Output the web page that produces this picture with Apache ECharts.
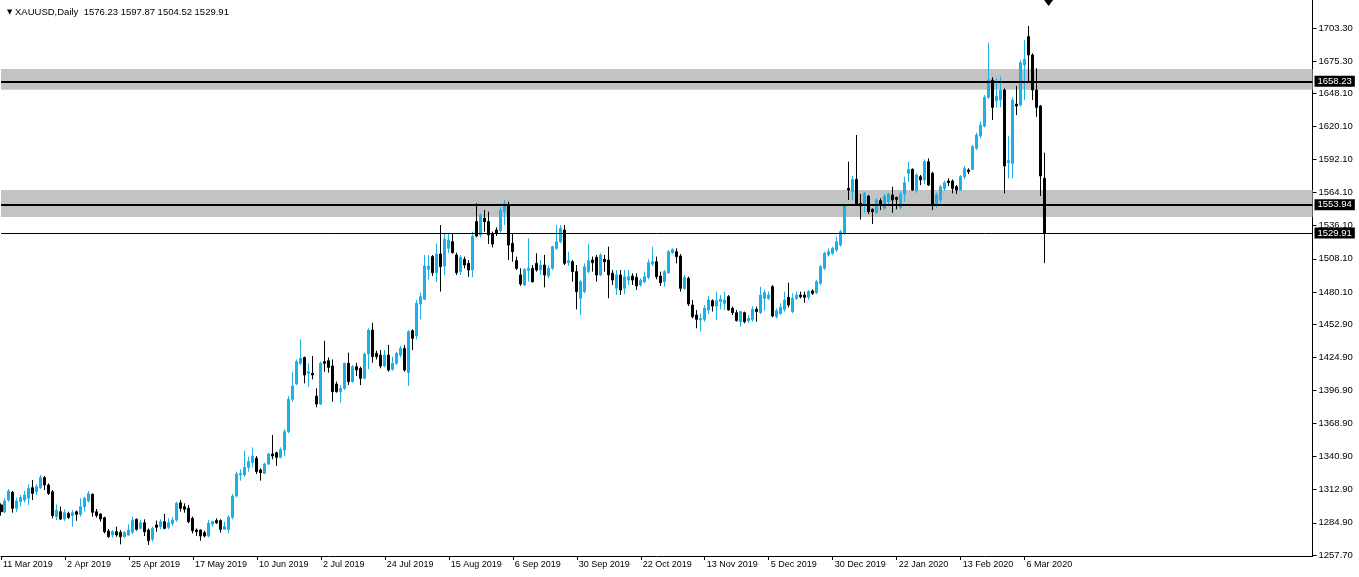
<!DOCTYPE html>
<html><head><meta charset="utf-8">
<script src="https://cdn.jsdelivr.net/npm/echarts@6/dist/echarts.min.js"></script>
<style>html,body{margin:0;padding:0;background:#fff;}#c{width:1359px;height:577px;}</style>
</head><body><div id="c"></div>
<script>
const symbolName = 'XAUUSD,Daily';
const opens = [
1300.0,1294.3,1304.2,1310.7,1297.2,1302.8,1304.2,1305.6,1314.6,1311.2,
1314.6,1323.1,1316.9,1311.2,1290.1,1294.3,1288.1,1292.9,1291.0,1294.3,
1292.1,1298.6,1303.4,1309.0,1294.3,1292.4,1289.3,1278.0,1274.6,1277.4,
1276.9,1273.2,1274.6,1276.9,1287.9,1280.2,1285.0,1278.8,1271.0,1283.1,
1281.7,1285.9,1281.1,1284.5,1287.3,1301.9,1298.6,1297.2,1288.7,1278.8,
1278.8,1276.6,1273.8,1283.9,1286.8,1286.8,1279.4,1279.4,1289.6,1307.6,
1325.4,1325.4,1331.8,1335.8,1339.5,1329.6,1326.7,1334.6,1343.1,1344.2,
1340.3,1346.5,1362.0,1389.3,1402.3,1419.8,1424.8,1411.3,1411.3,1392.1,
1385.4,1421.2,1422.0,1417.5,1402.3,1395.8,1398.6,1419.8,1404.3,1416.9,
1415.5,1407.1,1427.7,1447.9,1428.2,1426.8,1417.5,1426.8,1414.7,1419.8,
1426.8,1432.4,1411.9,1447.4,1442.9,1469.9,1473.9,1499.2,1510.0,1496.4,
1512.2,1502.1,1517.0,1522.6,1511.4,1497.3,1507.7,1504.3,1498.7,1539.6,
1528.3,1542.4,1539.6,1529.1,1532.5,1531.9,1548.0,1553.6,1521.2,1506.6,
1494.5,1486.0,1498.1,1500.1,1504.3,1498.7,1502.9,1493.6,1500.1,1517.0,
1522.6,1532.5,1504.9,1505.7,1497.3,1474.8,1480.4,1497.3,1507.1,1509.4,
1494.5,1507.7,1507.1,1495.9,1483.2,1494.5,1483.2,1490.2,1493.6,1492.5,
1486.0,1488.8,1492.5,1503.7,1505.7,1493.6,1488.8,1496.4,1513.3,1514.2,
1510.5,1483.2,1491.6,1469.1,1460.6,1456.4,1457.0,1464.9,1472.7,1468.2,
1472.0,1470.5,1476.1,1466.3,1462.6,1455.0,1462.6,1455.9,1457.0,1465.4,
1462.6,1474.7,1474.7,1484.6,1459.2,1462.0,1465.4,1475.6,1463.5,1474.7,
1477.5,1477.5,1475.6,1481.0,1479.5,1487.4,1500.1,1511.4,1512.8,1515.6,
1519.8,1529.7,1567.7,1564.9,1575.3,1555.0,1553.6,1561.2,1550.0,1547.1,
1557.3,1550.8,1556.5,1562.1,1560.1,1551.7,1562.9,1580.4,1583.8,1565.7,
1577.6,1574.8,1590.3,1580.4,1553.6,1557.9,1567.7,1573.9,1573.9,1569.1,
1566.3,1577.6,1583.2,1583.8,1601.6,1612.0,1620.4,1644.7,1659.3,1641.8,
1642.4,1650.9,1589.4,1588.9,1639.0,1638.2,1672.0,1696.0,1680.5,1650.9,
1637.3,1576.23];
const closes = [
1294.3,1303.4,1311.8,1297.2,1303.4,1306.5,1308.4,1314.1,1309.8,1315.5,
1323.1,1316.9,1309.8,1291.0,1295.7,1288.1,1293.5,1289.5,1293.5,1292.1,
1298.6,1305.6,1309.6,1293.8,1291.0,1288.1,1277.4,1273.2,1277.4,1274.6,
1273.2,1276.6,1278.8,1287.3,1279.4,1285.0,1277.4,1269.8,1280.2,1281.1,
1285.9,1280.2,1285.0,1287.3,1301.4,1297.2,1296.3,1285.9,1278.3,1277.4,
1273.8,1273.8,1284.5,1285.9,1285.0,1279.4,1281.7,1289.6,1307.6,1326.2,
1326.7,1331.8,1336.6,1341.4,1328.2,1327.3,1334.6,1343.1,1341.4,1340.3,
1347.0,1362.0,1389.3,1400.6,1421.2,1424.0,1409.9,1412.7,1409.9,1385.4,
1419.8,1419.8,1416.4,1395.8,1395.8,1398.6,1419.8,1404.3,1416.9,1414.1,
1407.1,1427.7,1447.9,1425.4,1425.4,1417.5,1426.8,1414.1,1419.8,1428.2,
1432.4,1414.1,1446.5,1440.9,1470.5,1476.1,1502.1,1502.1,1496.4,1512.2,
1501.5,1524.6,1524.0,1513.3,1496.4,1509.4,1502.9,1498.7,1527.4,1527.4,
1545.2,1539.6,1528.3,1520.7,1529.7,1549.4,1555.1,1519.8,1514.2,1500.1,
1486.8,1499.2,1500.1,1488.8,1498.7,1502.9,1494.5,1500.1,1518.4,1522.6,
1533.9,1504.3,1506.6,1497.3,1480.4,1488.8,1501.5,1506.6,1504.9,1494.5,
1511.4,1505.7,1494.5,1490.2,1494.5,1481.8,1493.0,1493.0,1490.2,1485.2,
1489.7,1493.0,1504.9,1505.7,1493.0,1488.0,1497.3,1514.2,1516.1,1510.0,
1483.2,1492.5,1469.9,1459.2,1457.0,1457.8,1466.3,1473.3,1468.2,1472.7,
1473.9,1473.3,1464.9,1462.6,1455.9,1463.5,1455.0,1457.8,1465.4,1463.5,
1477.5,1479.5,1477.5,1459.8,1464.3,1467.1,1473.3,1469.1,1474.7,1477.5,
1476.1,1475.6,1480.4,1479.0,1488.8,1501.5,1512.8,1514.2,1517.0,1522.6,
1531.1,1553.6,1566.3,1575.3,1553.6,1552.8,1563.5,1548.0,1548.0,1557.9,
1553.6,1561.2,1562.9,1557.9,1558.4,1562.9,1572.5,1583.8,1566.3,1579.0,
1574.8,1590.3,1570.5,1553.6,1562.1,1569.1,1572.5,1572.5,1567.7,1566.3,
1577.6,1584.6,1581.8,1603.0,1612.8,1621.3,1644.7,1659.3,1636.2,1645.8,
1650.9,1586.6,1591.2,1642.4,1637.3,1674.0,1676.8,1680.5,1650.9,1636.2,
1578.2,1529.91];
const lows = [
1291.0,1292.9,1302.8,1293.5,1294.3,1298.6,1302.2,1300.0,1304.2,1308.4,
1313.5,1312.7,1308.4,1288.7,1287.3,1287.3,1286.5,1288.1,1281.7,1286.5,
1290.1,1294.3,1302.2,1290.1,1289.3,1285.9,1276.0,1272.4,1272.4,1273.2,
1266.7,1272.4,1274.0,1275.2,1278.3,1279.4,1273.8,1266.2,1269.0,1277.4,
1279.4,1279.4,1279.4,1282.2,1285.9,1294.4,1293.5,1284.5,1276.0,1273.8,
1269.8,1272.6,1272.6,1281.7,1283.9,1276.6,1279.4,1276.0,1287.9,1306.5,
1320.6,1323.9,1328.2,1331.8,1326.2,1320.6,1326.2,1333.8,1338.6,1333.0,
1339.4,1341.4,1360.6,1387.3,1401.4,1418.4,1402.9,1400.0,1406.2,1382.6,
1384.5,1412.7,1411.9,1387.3,1395.0,1386.5,1397.2,1401.4,1403.4,1409.0,
1401.4,1406.2,1414.7,1420.3,1423.1,1415.5,1416.4,1412.7,1413.6,1418.4,
1424.8,1412.7,1400.6,1431.0,1440.0,1457.0,1473.3,1490.2,1493.6,1488.8,
1480.4,1494.5,1512.8,1512.8,1494.5,1494.5,1500.1,1493.0,1492.5,1526.3,
1526.3,1531.1,1520.7,1517.8,1527.4,1530.2,1536.7,1507.1,1505.7,1498.7,
1485.2,1485.2,1488.8,1488.0,1497.3,1494.5,1484.0,1491.6,1498.7,1515.6,
1521.2,1502.9,1502.1,1488.8,1465.4,1460.6,1479.0,1495.9,1497.3,1488.8,
1493.6,1497.3,1474.8,1486.0,1477.6,1477.6,1478.4,1486.0,1486.0,1481.8,
1484.6,1487.4,1490.8,1502.1,1490.8,1485.2,1484.6,1495.3,1512.2,1504.3,
1480.4,1481.8,1468.2,1457.8,1449.4,1446.5,1455.0,1461.5,1463.5,1456.4,
1465.4,1464.9,1464.3,1460.6,1455.0,1450.8,1453.6,1454.2,1455.0,1455.0,
1461.5,1464.3,1473.3,1458.7,1457.8,1460.6,1463.5,1467.1,1462.0,1473.3,
1474.7,1471.0,1473.3,1477.5,1478.4,1486.0,1498.7,1510.0,1511.4,1514.2,
1518.4,1528.3,1557.9,1557.9,1552.8,1541.5,1547.1,1546.0,1537.6,1546.0,
1549.4,1549.4,1554.5,1547.1,1550.0,1550.0,1556.5,1573.4,1565.7,1564.0,
1570.5,1571.4,1569.7,1549.4,1550.8,1555.0,1565.7,1569.7,1563.5,1562.9,
1565.7,1575.3,1579.8,1583.2,1600.1,1610.0,1619.3,1643.0,1625.5,1636.2,
1636.2,1563.5,1576.2,1576.2,1629.7,1636.8,1642.4,1657.9,1642.4,1628.3,
1561.3,1504.52];
const highs = [
1301.4,1305.6,1313.5,1311.8,1306.2,1308.4,1311.8,1317.5,1321.1,1317.5,
1325.3,1324.5,1318.3,1312.7,1300.5,1298.6,1296.3,1294.3,1295.7,1295.2,
1305.6,1307.0,1311.8,1309.8,1296.6,1292.9,1290.1,1279.7,1278.8,1281.7,
1278.8,1278.0,1283.6,1290.1,1288.7,1287.3,1287.9,1280.2,1281.7,1286.8,
1287.9,1292.4,1288.7,1290.1,1302.8,1304.2,1301.4,1300.0,1290.1,1280.2,
1279.4,1278.3,1287.3,1286.8,1288.7,1287.9,1285.9,1291.5,1309.3,1328.2,
1330.1,1345.9,1340.9,1348.7,1341.4,1331.0,1335.8,1344.2,1359.2,1345.1,
1348.7,1364.0,1392.1,1412.7,1423.1,1440.1,1425.4,1419.8,1426.0,1398.6,
1421.2,1438.9,1424.8,1423.1,1404.3,1401.4,1420.3,1428.8,1418.4,1420.3,
1416.9,1428.8,1449.4,1454.1,1430.5,1431.0,1431.0,1435.3,1425.4,1429.6,
1434.4,1435.3,1447.9,1448.5,1473.3,1479.5,1511.4,1511.4,1511.4,1521.2,
1536.7,1529.7,1529.7,1529.7,1513.3,1511.4,1510.0,1507.1,1531.1,1555.1,
1546.6,1549.4,1548.0,1531.1,1534.8,1551.7,1558.0,1556.5,1529.7,1510.0,
1500.1,1500.1,1525.5,1502.9,1512.8,1507.1,1511.4,1502.9,1519.0,1536.7,
1536.7,1536.7,1514.2,1507.1,1502.9,1490.2,1504.3,1520.7,1510.0,1511.4,
1512.8,1511.4,1518.4,1498.7,1498.7,1498.7,1498.7,1498.7,1495.9,1495.9,
1491.6,1497.3,1507.7,1518.4,1510.0,1497.3,1498.7,1515.6,1517.0,1517.0,
1512.2,1494.5,1493.0,1473.3,1464.9,1462.0,1469.1,1476.7,1473.9,1480.4,
1477.5,1480.4,1477.5,1467.7,1464.9,1464.3,1463.5,1460.6,1468.2,1467.7,
1484.6,1481.8,1480.4,1486.0,1466.3,1470.5,1480.4,1488.0,1478.9,1480.4,
1480.4,1480.4,1481.8,1482.3,1490.2,1502.9,1514.2,1517.0,1518.4,1526.9,
1532.5,1555.0,1590.3,1578.2,1612.8,1562.9,1564.9,1562.1,1550.8,1559.3,
1559.3,1562.9,1564.0,1569.1,1560.7,1564.9,1577.6,1590.3,1584.6,1580.4,
1579.0,1592.2,1593.1,1581.8,1564.0,1570.5,1574.2,1576.2,1575.3,1570.5,
1579.0,1586.6,1584.6,1604.4,1614.8,1624.1,1646.6,1690.9,1661.6,1660.7,
1662.1,1652.3,1611.9,1644.7,1654.3,1676.2,1693.2,1705.0,1681.9,1669.2,
1638.2,1597.87];

const firstDate = '2019-03-11';
const marketHolidays = ['2019-04-19', '2019-12-25', '2020-01-01'];
const futureBarCount = 67;
const dateLabelEvery = 16;
const yTickValues = [1703.30,1675.30,1648.10,1620.10,1592.10,1564.10,1536.10,1508.10,1480.10,1452.90,1424.90,1396.90,1368.90,1340.90,1312.90,1284.90,1257.70];
const levelLines = [1658.23, 1553.94];
const bidLine = [1529.91];
const zoneTops = [1668.6, 1566.3];
const zoneBottoms = [1651.1, 1543.5];
const yRange = [1256.86, 1726.98];

const MONTHS = ['Jan','Feb','Mar','Apr','May','Jun','Jul','Aug','Sep','Oct','Nov','Dec'];
function tradingDays(start, count, holidays) {
  const out = [];
  const d = new Date(start + 'T00:00:00Z');
  while (out.length < count) {
    const iso = d.toISOString().slice(0, 10);
    const wd = d.getUTCDay();
    if (wd !== 0 && wd !== 6 && holidays.indexOf(iso) < 0) {
      out.push(d.getUTCDate() + ' ' + MONTHS[d.getUTCMonth()] + ' ' + d.getUTCFullYear());
    }
    d.setUTCDate(d.getUTCDate() + 1);
  }
  return out;
}
const n = opens.length;
const dates = tradingDays(firstDate, n, marketHolidays);
const categories = dates.slice();
for (let k = 0; k < futureBarCount; k++) categories.push('+' + (k + 1));

const ohlc = [];
for (let i = 0; i < n; i++) ohlc.push([opens[i], closes[i], lows[i], highs[i]]);

const BLUE = '#1CAFE8';
const FONT = 'Liberation Sans';
const showDate = (idx) => idx < n && idx % dateLabelEvery === 0;

const chart = echarts.init(document.getElementById('c'), null, {renderer: 'canvas'});
const markAreaData = zoneTops.map((t, k) => [{yAxis: t}, {yAxis: zoneBottoms[k]}]);
const markLineData = levelLines.map(v => ({yAxis: v, lineStyle: {width: 2}}))
  .concat(bidLine.map(v => ({yAxis: v, lineStyle: {width: 1}})));

chart.setOption({
  animation: false,
  backgroundColor: '#fff',
  title: {
    text: '{t|▼} ' + symbolName + '  ' + [opens[n-1], highs[n-1], lows[n-1], closes[n-1]].map(v => v.toFixed(2)).join(' '),
    left: 2, top: 2,
    textStyle: {fontFamily: FONT, fontSize: 9.5, fontWeight: 'normal', color: '#000',
      rich: {t: {fontSize: 7, color: '#000', fontFamily: 'DejaVu Sans'}}}
  },
  grid: {left: 0.5, right: 46.5, top: 0, bottom: 21, containLabel: false},
  xAxis: {
    type: 'category', data: categories, boundaryGap: false,
    axisLine: {show: true, lineStyle: {color: '#000', width: 1}},
    axisTick: {show: true, interval: showDate, length: 4, lineStyle: {color: '#000'}},
    axisLabel: {show: true, interval: showDate, align: 'left', margin: 4, padding: [0, 0, 0, 2],
      color: '#000', fontFamily: FONT, fontSize: 9},
    splitLine: {show: false}
  },
  yAxis: {
    type: 'value', position: 'right', min: yRange[0], max: yRange[1],
    axisLine: {show: true, lineStyle: {color: '#000', width: 1}},
    axisTick: {show: true, length: 4, customValues: yTickValues, lineStyle: {color: '#000'}},
    axisLabel: {show: true, customValues: yTickValues, formatter: v => v.toFixed(2), margin: 6,
      color: '#000', fontFamily: FONT, fontSize: 9.5},
    splitLine: {show: false}
  },
  series: [{
    type: 'candlestick',
    data: ohlc,
    barWidth: 2.5,
    itemStyle: {color: BLUE, color0: '#000', borderColor: BLUE, borderColor0: '#000', borderWidth: 1},
    markArea: {silent: true, itemStyle: {color: '#C3C3C3'}, data: markAreaData},
    markLine: {
      silent: true, symbol: ['none', 'none'],
      lineStyle: {color: '#000', type: 'solid'},
      label: {show: true, position: 'end', distance: 2, formatter: p => p.value.toFixed(2),
        color: '#fff', backgroundColor: '#000', padding: [1, 3, 0, 3], fontFamily: FONT, fontSize: 9.5},
      emphasis: {disabled: true},
      data: markLineData
    },
    markPoint: {
      silent: true,
      data: [{coord: [categories[n], yRange[1]], symbol: 'triangle', symbolRotate: 180,
        symbolSize: [9, 6], symbolOffset: [0, 3], itemStyle: {color: '#000'}, label: {show: false}}]
    }
  }]
});
</script>
</body></html>
